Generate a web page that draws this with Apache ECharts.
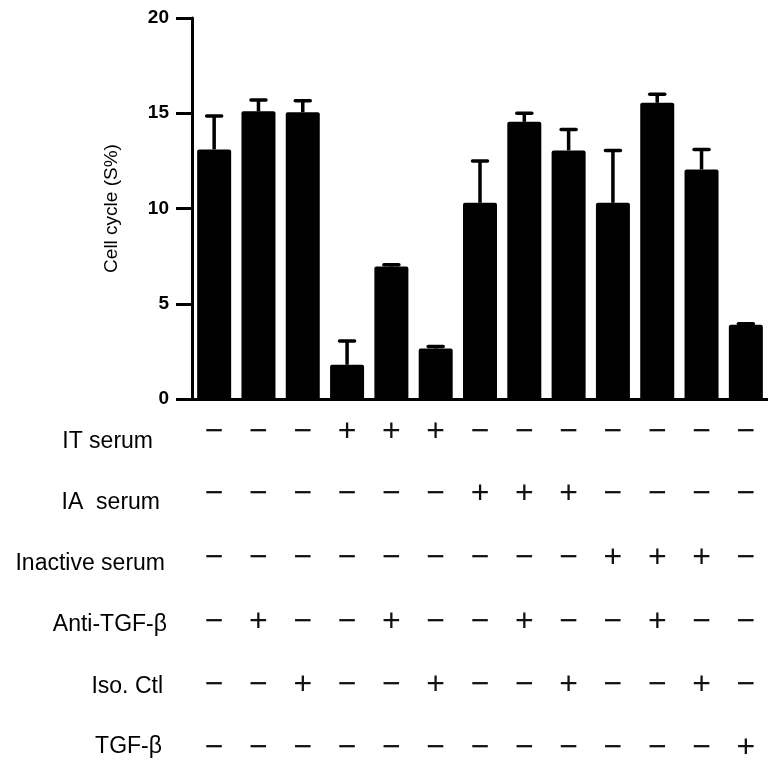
<!DOCTYPE html>
<html>
<head>
<meta charset="utf-8">
<script src="https://cdn.jsdelivr.net/npm/echarts@6/dist/echarts.min.js"></script>
<style>
  html, body { margin: 0; padding: 0; background: #fff; }
  #main { width: 768px; height: 760px; }
</style>
</head>
<body>
<div id="main"></div>
<script>
// groups (13 bars), left to right
const groups = ['g1', 'g2', 'g3', 'g4', 'g5', 'g6', 'g7', 'g8', 'g9', 'g10', 'g11', 'g12', 'g13'];
const meanS = [13.1, 15.1, 15.05, 1.8, 6.95, 2.65, 10.3, 14.55, 13.05, 10.3, 15.55, 12.05, 3.9];
const sdS = [1.75, 0.6, 0.6, 1.25, 0.1, 0.1, 2.2, 0.45, 1.1, 2.75, 0.45, 1.05, 0.05];
const yTicks = [0, 5, 10, 15, 20];

// treatment table under the bars (1 = +, 0 = −)
const rowNames = ['IT serum', 'IA  serum', 'Inactive serum', 'Anti-TGF-β', 'Iso. Ctl', 'TGF-β'];
const itSerum = [0, 0, 0, 1, 1, 1, 0, 0, 0, 0, 0, 0, 0];
const iaSerum = [0, 0, 0, 0, 0, 0, 1, 1, 1, 0, 0, 0, 0];
const inactiveSerum = [0, 0, 0, 0, 0, 0, 0, 0, 0, 1, 1, 1, 0];
const antiTgf = [0, 1, 0, 0, 1, 0, 0, 1, 0, 0, 1, 0, 0];
const isoCtl = [0, 0, 1, 0, 0, 1, 0, 0, 1, 0, 0, 1, 0];
const tgfB = [0, 0, 0, 0, 0, 0, 0, 0, 0, 0, 0, 0, 1];
const rows = [itSerum, iaSerum, inactiveSerum, antiTgf, isoCtl, tgfB];

// layout of the table
const labelRight = [153, 160, 165, 167, 163, 162];
const labelY = [442, 503, 564, 625, 687, 747];
const symbolY = [432, 494, 558, 622, 685, 748];

const font = 'Liberation Sans, Arial, sans-serif';
const chart = echarts.init(document.getElementById('main'));

const option = {
  animation: false,
  backgroundColor: '#fff',
  grid: { left: 192, top: 18, width: 576, height: 381, containLabel: false },
  xAxis: {
    type: 'category',
    data: groups,
    axisLine: { lineStyle: { color: '#000', width: 3 } },
    axisTick: { show: false },
    axisLabel: { show: false }
  },
  yAxis: {
    type: 'value',
    min: 0,
    max: 20,
    interval: 5,
    name: 'Cell cycle (S%)',
    nameLocation: 'middle',
    nameGap: 71,
    nameTextStyle: { color: '#000', fontSize: 19, fontFamily: font },
    axisLine: { show: true, lineStyle: { color: '#000', width: 3 } },
    axisTick: { show: true, length: 16, lineStyle: { color: '#000', width: 3 } },
    axisLabel: {
      color: '#000', fontSize: 19, fontWeight: 'bold', fontFamily: font, margin: 23,
      formatter: v => yTicks.includes(v) ? String(v) : ''
    },
    splitLine: { show: false }
  },
  series: [
    {
      type: 'bar',
      data: meanS,
      barWidth: 34,
      itemStyle: { color: '#000', borderRadius: [2, 2, 0, 0] },
      z: 3
    },
    {
      type: 'custom',
      data: meanS.map((m, i) => [i, m, m + sdS[i]]),
      renderItem: (params, api) => {
        const base = api.coord([api.value(0), api.value(1)]);
        const top = api.coord([api.value(0), api.value(2)]);
        const half = 7.5;
        return {
          type: 'group',
          children: [
            { type: 'line', shape: { x1: base[0], y1: base[1], x2: top[0], y2: top[1] },
              style: { stroke: '#000', lineWidth: 3.5 } },
            { type: 'line', shape: { x1: top[0] - half, y1: top[1], x2: top[0] + half, y2: top[1] },
              style: { stroke: '#000', lineWidth: 3.5, lineCap: 'round' } }
          ]
        };
      },
      z: 2
    }
  ]
};

chart.setOption(option);

// table of + / − under each bar
const graphics = [];
rowNames.forEach((name, r) => {
  graphics.push({
    type: 'text',
    x: labelRight[r],
    y: labelY[r],
    style: { text: name, fill: '#000', font: '23px ' + font, textAlign: 'right', textVerticalAlign: 'middle' }
  });
  rows[r].forEach((on, i) => {
    const cx = chart.convertToPixel({ xAxisIndex: 0 }, i);
    graphics.push({
      type: 'text',
      x: cx,
      y: symbolY[r],
      style: { text: on ? '+' : '−', fill: '#111', font: '32px ' + font, textAlign: 'center', textVerticalAlign: 'middle' }
    });
  });
});
chart.setOption({ graphic: graphics });
</script>
</body>
</html>
